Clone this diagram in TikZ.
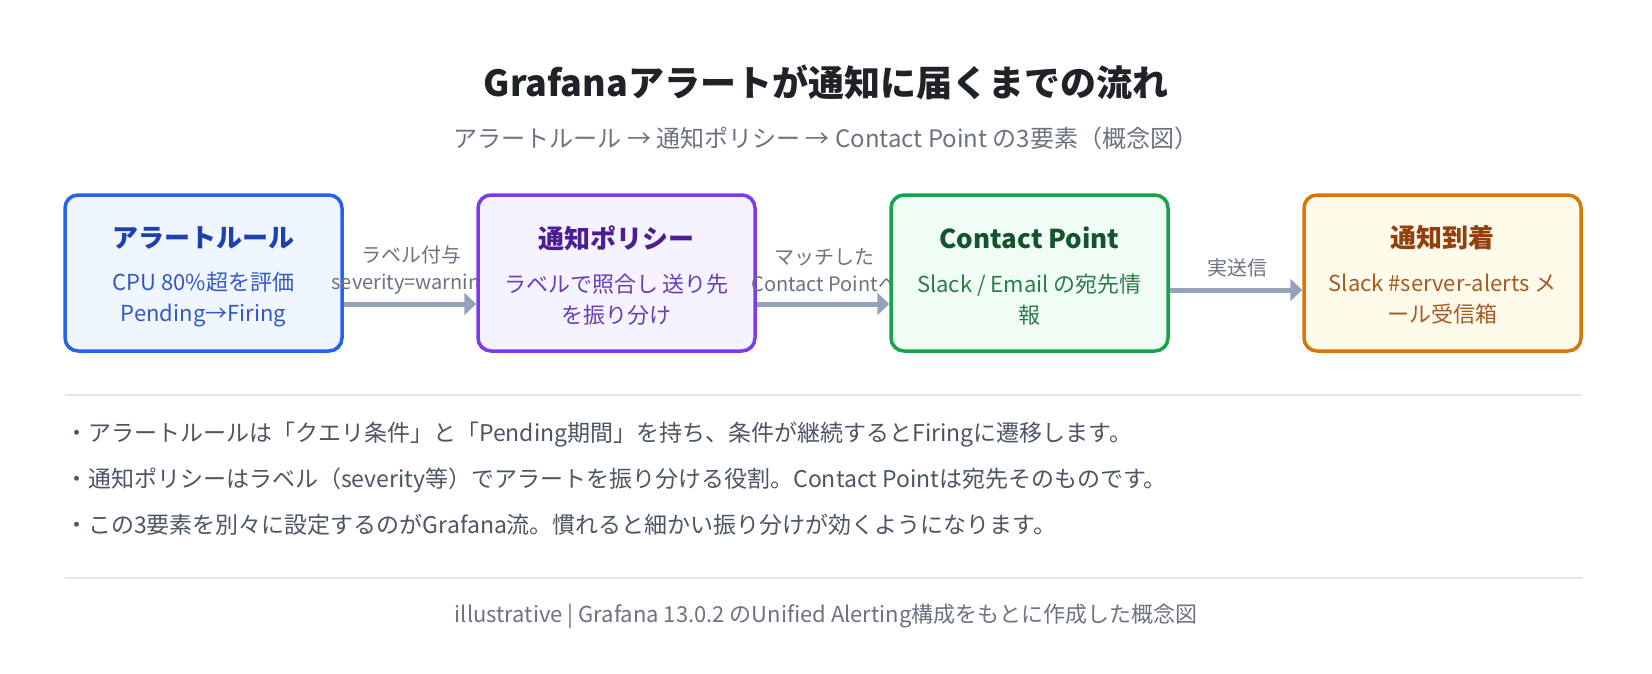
\documentclass[tikz,border=0pt]{standalone}
\usepackage{fontspec}
\setmainfont{Noto Sans CJK JP}
\usetikzlibrary{arrows.meta,calc}
\definecolor{titlec}{HTML}{1F2328}
\definecolor{subc}{HTML}{6B7280}
\definecolor{bulc}{HTML}{4B5563}
\definecolor{divc}{HTML}{E2E5EA}
\definecolor{arrc}{HTML}{94A3B8}
\definecolor{bAd}{HTML}{2563EB}\definecolor{bAf}{HTML}{EFF6FF}\definecolor{bAt}{HTML}{1E40AF}\definecolor{bAb}{HTML}{3558C8}
\definecolor{bBd}{HTML}{7C3AED}\definecolor{bBf}{HTML}{F5F3FF}\definecolor{bBt}{HTML}{4C1D95}\definecolor{bBb}{HTML}{6A3DB8}
\definecolor{bCd}{HTML}{16A34A}\definecolor{bCf}{HTML}{F0FDF4}\definecolor{bCt}{HTML}{14532D}\definecolor{bCb}{HTML}{2F7A4A}
\definecolor{bDd}{HTML}{D97706}\definecolor{bDf}{HTML}{FFFBEB}\definecolor{bDt}{HTML}{92400E}\definecolor{bDb}{HTML}{A65A26}
\tikzset{
  flowbox/.style={draw=#1, line width=3.5pt, rounded corners=13pt, minimum width=277pt, minimum height=156pt, inner sep=0pt},
  boxtitle/.style={font=\fontsize{26}{30}\selectfont\bfseries, text=#1, inner sep=0pt},
  boxbody/.style={font=\fontsize{22}{31}\selectfont, text=#1, align=center, inner sep=0pt},
  edgelabel/.style={font=\fontsize{20}{27}\selectfont, text=subc, align=center, inner sep=0pt},
  flowarrow/.style={draw=arrc, line width=5pt, -{Triangle[length=12pt,width=22pt]}},
  divider/.style={draw=divc, line width=1.5pt},
  bullet/.style={font=\fontsize{23}{28}\selectfont, text=bulc, anchor=west, inner sep=0pt},
}
\begin{document}
\begin{tikzpicture}[x=1pt,y=-1pt]
\useasboundingbox (0,0) rectangle (1652,674);
\node[font=\fontsize{36}{42}\selectfont\bfseries, text=titlec, inner sep=0pt] (title) at (826,82) {Grafanaアラートが通知に届くまでの流れ};
\node[font=\fontsize{24}{28}\selectfont, text=subc, inner sep=0pt] (subtitle) at (826,138) {アラートルール → 通知ポリシー → Contact Point の3要素（概念図）};

% box 1
\node[flowbox=bAd, fill=bAf] (b1) at (203.5,273) {};
\node[boxtitle=bAt] (b1t) at (203.5,238) {アラートルール};
\node[boxbody=bAb] (b1b) at (203.5,299.5) {CPU 80\%超を評価\\Pending→Firing};
\node[edgelabel] (l1) at ($(b1.east)+(68,-2.5)$) {ラベル付与\\severity=warning};
% box 2
\node[flowbox=bBd, fill=bBf] (b2) at (616.5,273) {};
\node[boxtitle=bBt] (b2t) at (616.5,238) {通知ポリシー};
\node[boxbody=bBb] (b2b) at (616.5,299.5) {ラベルで照合し 送り先\\を振り分け};
\node[edgelabel] (l2) at ($(b2.east)+(68,-2.5)$) {マッチした\\Contact Pointへ};
% box 3
\node[flowbox=bCd, fill=bCf] (b3) at (1029.5,273) {};
\node[boxtitle=bCt] (b3t) at (1029.5,238) {Contact Point};
\node[boxbody=bCb] (b3b) at (1029.5,299.5) {Slack / Email の宛先情\\報};
\node[edgelabel] (l3) at ($(b3.east)+(68,-5)$) {実送信};
% box 4
\node[flowbox=bDd, fill=bDf] (b4) at (1442.5,273) {};
\node[boxtitle=bDt] (b4t) at (1442.5,238) {通知到着};
\node[boxbody=bDb] (b4b) at (1442.5,299.5) {Slack \#server-alerts メ\\ール受信箱};

% arrows
\draw[flowarrow] ([yshift=-31pt]b1.east) -- ([yshift=-31pt]b2.west);
\draw[flowarrow] ([yshift=-31pt]b2.east) -- ([yshift=-31pt]b3.west);
\draw[flowarrow] ([yshift=-17pt]b3.east) -- ([yshift=-17pt]b4.west);

% dividers
\coordinate (d1a) at (65,395); \coordinate (d1b) at (1582,395);
\draw[divider] (d1a) -- (d1b);
\node[bullet] (p1) at (65,435) {・アラートルールは「クエリ条件」と「Pending期間」を持ち、条件が継続するとFiringに遷移します。};
\node[bullet] (p2) at (65,480) {・通知ポリシーはラベル（severity等）でアラートを振り分ける役割。Contact Pointは宛先そのものです。};
\node[bullet] (p3) at (65,525) {・この3要素を別々に設定するのがGrafana流。慣れると細かい振り分けが効くようになります。};
\coordinate (d2a) at (65,578); \coordinate (d2b) at (1582,578);
\draw[divider] (d2a) -- (d2b);
\node[font=\fontsize{22}{26}\selectfont, text=subc, inner sep=0pt] (footer) at (826,616) {illustrative | Grafana 13.0.2 のUnified Alerting構成をもとに作成した概念図};
\end{tikzpicture}
\end{document}
